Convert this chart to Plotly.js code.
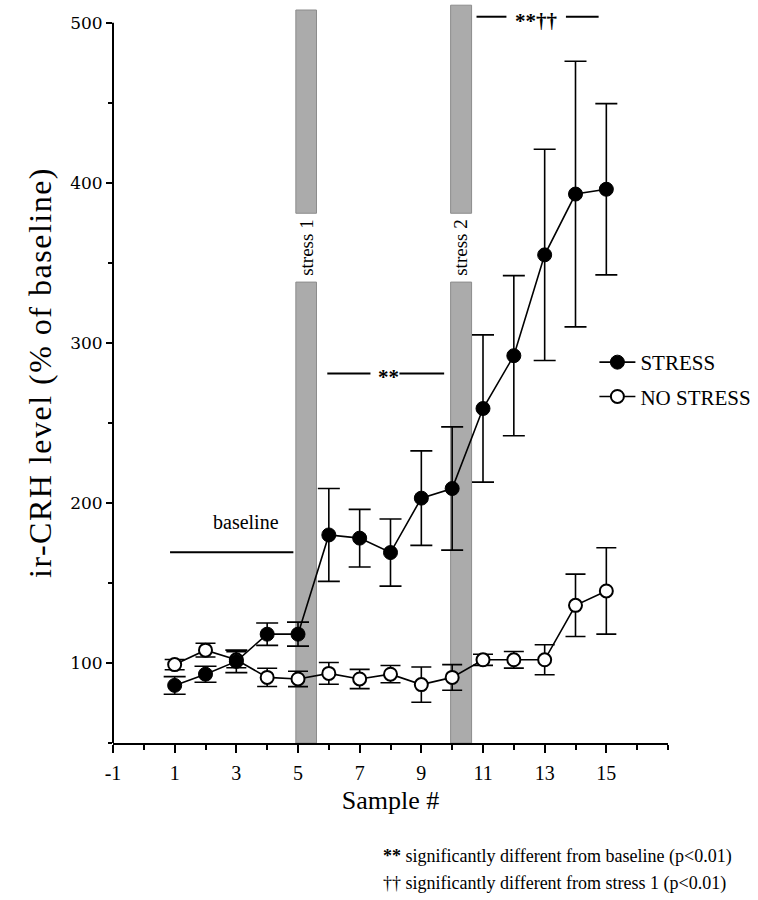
<!DOCTYPE html>
<html>
<head>
<meta charset="utf-8">
<script src="https://cdn.plot.ly/plotly-3.0.1.min.js"></script>
<style>
html,body{margin:0;padding:0;background:#fff;}
#chart{width:758px;height:900px;}
#chart .ytitle{letter-spacing:1.5px;}
</style>
</head>
<body>
<div id="chart"></div>
<script>
// ---- data ----
const samples = [1, 2, 3, 4, 5, 6, 7, 8, 9, 10, 11, 12, 13, 14, 15];
const stressMean = [86, 93, 101, 118, 118, 180, 178, 169, 203, 209, 259, 292, 355, 393, 396];
const stressErr = [5.5, 5, 7, 7, 7.5, 29, 18, 21, 29.5, 38.5, 46, 50, 66, 83, 53.5];
const noStressMean = [99, 108, 102, 91, 90, 93.5, 90, 93, 86.5, 91, 102, 102, 102, 136, 145];
const noStressErr = [3.2, 4.3, 5, 5.7, 4.8, 6.8, 6, 5.4, 11, 8, 3.5, 5.2, 9.4, 19.5, 27];
const seriesNames = ['STRESS', 'NO STRESS'];
const stressPeriods = [
  {label: 'stress 1', start: 4.93, end: 5.6, top: 508},
  {label: 'stress 2', start: 9.95, end: 10.63, top: 511}
];
const xTickVals = [-1, 1, 3, 5, 7, 9, 11, 13, 15];
const yTickVals = [100, 200, 300, 400, 500];

const serif = 'Liberation Serif, Times New Roman, serif';
const yRange = [50, 513];
const xRange = [-1, 17];

const traces = [
  {
    x: samples, y: noStressMean, name: seriesNames[1], type: 'scatter', mode: 'lines+markers',
    legendgroup: 'b', legendrank: 2,
    line: {color: '#000', width: 1.6},
    marker: {symbol: 'circle', size: 13, color: '#fff', line: {color: '#000', width: 2}},
    error_y: {type: 'data', array: noStressErr, visible: true, color: '#000', thickness: 1.6, width: 10}
  },
  {
    x: samples, y: stressMean, name: seriesNames[0], type: 'scatter', mode: 'lines+markers',
    legendgroup: 'a', legendrank: 1,
    line: {color: '#000', width: 1.6},
    marker: {symbol: 'circle', size: 14, color: '#000', line: {color: '#000', width: 1}},
    error_y: {type: 'data', array: stressErr, visible: true, color: '#000', thickness: 1.6, width: 11}
  }
];

const shapes = [];
const annotations = [];
// stress bars with a gap for the label
stressPeriods.forEach(p => {
  const common = {type: 'rect', xref: 'x', yref: 'y', x0: p.start, x1: p.end,
    fillcolor: '#ababab', line: {color: '#8c8c8c', width: 1}, layer: 'below'};
  shapes.push(Object.assign({}, common, {y0: yRange[0], y1: 338}));
  shapes.push(Object.assign({}, common, {y0: 381, y1: p.top}));
  annotations.push({x: (p.start + p.end) / 2, y: 359.5, xref: 'x', yref: 'y', text: p.label,
    showarrow: false, textangle: -90, font: {family: serif, size: 19, color: '#000'}});
});
// y axis line only up to 500
shapes.push({type: 'line', xref: 'paper', yref: 'paper', x0: 0, x1: 0, y0: 0,
  y1: (500 - yRange[0]) / (yRange[1] - yRange[0]), line: {color: '#000', width: 2}});
// significance lines
const sigLine = (x0, x1, y) => ({type: 'line', xref: 'x', yref: 'y', x0: x0, x1: x1, y0: y, y1: y,
  line: {color: '#000', width: 2}});
shapes.push(sigLine(0.85, 4.85, 169.2));
shapes.push(sigLine(5.95, 7.35, 280.9));
shapes.push(sigLine(8.29, 9.74, 280.9));
shapes.push(sigLine(10.79, 11.76, 503.8));
shapes.push(sigLine(13.69, 14.75, 503.8));

annotations.push({x: 3.3, y: 188, xref: 'x', yref: 'y', text: 'baseline', showarrow: false,
  font: {family: serif, size: 20, color: '#000'}});
annotations.push({x: 7.92, y: 278.5, xref: 'x', yref: 'y', text: '<b>**</b>', showarrow: false,
  font: {family: serif, size: 21, color: '#000'}});
annotations.push({x: 12.73, y: 501, xref: 'x', yref: 'y', text: '<b>**††</b>', showarrow: false,
  font: {family: serif, size: 21, color: '#000'}});
// footnotes (pixel positions converted below)
annotations.push({x: 382, y: 856, xref: 'paper', yref: 'paper', text: '<b>**</b> significantly different from baseline (p&lt;0.01)',
  showarrow: false, xanchor: 'left', yanchor: 'middle', font: {family: serif, size: 18, color: '#000'}});
annotations.push({x: 382, y: 884, xref: 'paper', yref: 'paper', text: '†† significantly different from stress 1 (p&lt;0.01)',
  showarrow: false, xanchor: 'left', yanchor: 'middle', font: {family: serif, size: 18, color: '#000'}});

const M = {l: 113, r: 87, t: 2, b: 157};
const plotW = 758 - M.l - M.r, plotH = 900 - M.t - M.b;
annotations.forEach(a => {
  if (a.xref === 'paper' && a.x > 1) {
    a.x = (a.x - M.l) / plotW;
    a.y = (900 - M.b - a.y) / plotH;
  }
});

const layout = {
  width: 758, height: 900,
  margin: M,
  paper_bgcolor: '#fff', plot_bgcolor: '#fff',
  showlegend: true,
  legend: {x: (597 - M.l) / plotW, y: (900 - M.b - 342) / plotH, xanchor: 'left', yanchor: 'top',
    traceorder: 'grouped', tracegroupgap: 4, itemwidth: 36, bgcolor: 'rgba(0,0,0,0)',
    font: {family: serif, size: 21, color: '#000'}},
  xaxis: {
    range: xRange, showgrid: false, zeroline: false, showline: true, linecolor: '#000', linewidth: 2,
    tickmode: 'array', tickvals: xTickVals, ticktext: xTickVals.map(String),
    ticks: 'outside', ticklen: 8, tickwidth: 2, tickcolor: '#000', ticklabelstandoff: 3,
    minor: {ticks: 'outside', ticklen: 5, tickwidth: 2, tickcolor: '#000', dtick: 1, tick0: 0, showgrid: false},
    tickfont: {family: serif, size: 20, color: '#000'},
    title: {text: 'Sample #', font: {family: serif, size: 26, color: '#000'}, standoff: 8}
  },
  yaxis: {
    range: yRange, showgrid: false, zeroline: false, showline: false,
    tickmode: 'array', tickvals: yTickVals, ticktext: yTickVals.map(String),
    ticks: 'outside', ticklen: 6, tickwidth: 2, tickcolor: '#000',
    minor: {ticks: 'outside', ticklen: 4, tickwidth: 1.5, tickcolor: '#000', dtick: 50, tick0: 50, showgrid: false},
    tickfont: {family: 'DejaVu Serif, serif', size: 17, color: '#000'},
    title: {text: 'ir-CRH level (% of baseline)', font: {family: serif, size: 32, color: '#000'}, standoff: 8}
  },
  shapes: shapes,
  annotations: annotations
};

Plotly.newPlot('chart', traces, layout, {displayModeBar: false, staticPlot: true});
</script>
</body>
</html>
